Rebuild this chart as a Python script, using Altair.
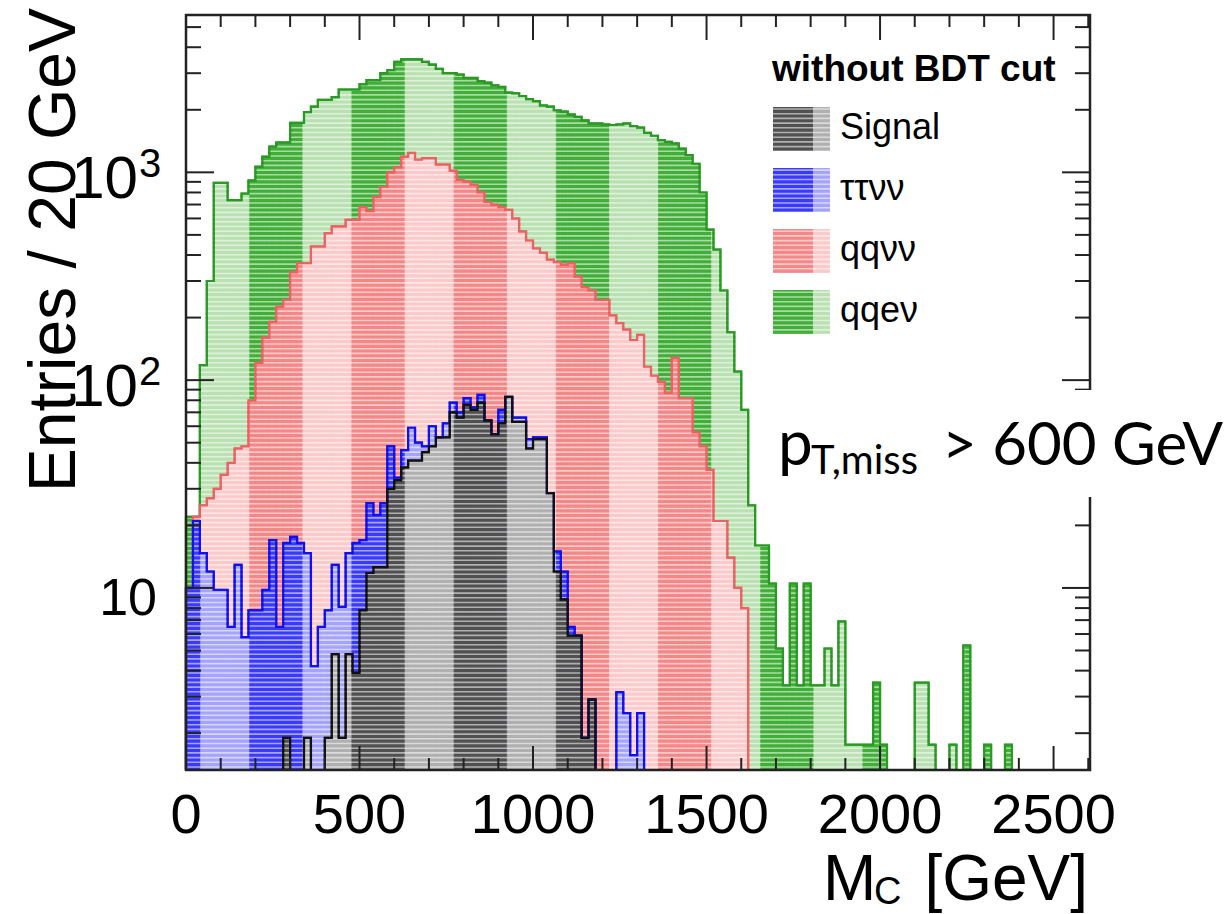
import altair as alt
import pandas as pd

# Entries per 20 GeV bin of M_C, as drawn in the stack: every series already
# contains the ones drawn in front of it (qqeν total > qqνν > ττνν > Signal).
BIN_WIDTH = 20

stack_signal = [0, 0, 0, 0, 0, 0, 0, 0, 0, 0, 0, 0, 0, 0,
                1.9, 0, 0, 1.9, 0, 0, 1.9, 4.8, 1.9, 4.8, 3.9, 7.8, 11.8, 12.6, 12.6, 30,
                33, 38, 41, 41, 45, 48, 53, 53, 70, 66, 76, 72, 78, 64, 55, 62, 83, 63,
                63, 47, 52, 52, 28.6, 12, 8.8, 5.9, 5.9, 1.9, 2.9]

stack_tautau = [10, 21, 14.7, 12, 9.8, 9.8, 6.5, 12.9, 5.8, 7.8,
                7.8, 9.8, 17, 6.5, 16.5, 17.6, 16.5, 14.7, 4.2, 6.5,
                7.8, 12.9, 8.1, 14.7, 16.5, 17, 25.6, 22.5, 25.6, 48,
                34, 46, 59, 50, 48, 60, 53, 62, 78, 70,
                82, 74, 85, 64, 55, 72, 83, 66, 66, 52,
                53, 53, 28.6, 15, 12, 6.5, 5.9, 1.9, 2.9, 0,
                0, 0, 3.15, 2.5, 1.57, 2.5]

stack_qqvv = [10, 22, 25, 27, 30, 35, 40, 47, 48, 80,
              121, 160, 191, 226, 243, 330, 366, 366, 440, 440,
              510, 550, 550, 590, 590, 680, 650, 760, 850, 1000,
              1060, 1190, 1240, 1150, 1170, 1170, 1090, 1090, 1020, 920,
              900, 870, 800, 720, 700, 680, 660, 600, 520, 470,
              430, 410, 380, 370, 360, 365, 315, 280, 270, 243,
              243, 205, 188, 175, 156, 165, 116, 105, 98, 87,
              128, 82, 82, 56, 48, 37, 21, 21, 14, 10,
              8]

stack_qqev = [22, 22, 118, 300, 890, 890, 735, 735, 790, 915,
              1065, 1190, 1330, 1395, 1395, 1730, 1730, 1950, 2070, 2230,
              2230, 2300, 2500, 2500, 2500, 2650, 2780, 2780, 3000, 3100,
              3400, 3500, 3500, 3500, 3400, 3300, 3150, 3000, 3000, 2950,
              2850, 2850, 2750, 2700, 2620, 2580, 2420, 2400, 2330, 2250,
              2200, 2100, 2070, 1990, 1960, 1900, 1850, 1780, 1720, 1720,
              1700, 1690, 1700, 1720, 1670, 1640, 1550, 1500, 1430, 1400,
              1380, 1300, 1210, 1100, 800, 530, 425, 270, 170, 110,
              72, 25, 16, 16, 10.5, 5.1, 3.4, 10.5, 3.4, 10.5,
              3.4, 3.4, 5.1, 3.4, 6.9, 1.76, 1.76, 1.76, 1.76, 3.5,
              1.76, 0, 0, 0, 0, 3.5, 3.5, 1.76, 0, 0,
              1.76, 0, 5.3, 0, 0, 1.76, 0, 0, 1.76]

series = [("qqeν", stack_qqev), ("qqνν", stack_qqvv), ("ττνν", stack_tautau), ("Signal", stack_signal)]
legend_entries = ["Signal", "ττνν", "qqνν", "qqeν"]

x_tick_labels = [0, 500, 1000, 1500, 2000, 2500]
x_minor_ticks = [100, 200, 300, 400, 600, 700, 800, 900, 1100, 1200, 1300, 1400, 1600, 1700,
                 1800, 1900, 2100, 2200, 2300, 2400, 2600]
y_major_ticks = [10, 100, 1000]
y_minor_ticks = [2, 3, 4, 5, 6, 7, 8, 9, 20, 30, 40, 50, 60, 70, 80, 90,
                 200, 300, 400, 500, 600, 700, 800, 900, 2000, 3000, 4000, 5000]

# ---- styling -------------------------------------------------------------
STYLE = {
    "qqeν":   dict(dark="#40ae37", light="#b9e1b1", line="#2a9a24"),
    "qqνν":   dict(dark="#f48787", light="#fccaca", line="#ec6262"),
    "ττνν":   dict(dark="#3a3aff", light="#a4a4ff", line="#1010f0"),
    "Signal": dict(dark="#505050", light="#b0b0b0", line="#111111"),
}
# the fill pattern alternates in vertical bands along M_C
BAND_START, BAND_PERIOD, BAND_WIDTH = 42.4, 294.5, 141.2
# horizontal hatch lines laid over the fills (pixel spacing)
HATCH_STEP = 4.7

W, H = 904, 755
LEFT, TOP = 186, 15
SANS = "Liberation Sans"
X_DOMAIN = [0, 2605]
Y_DOMAIN = [1.33, 5717]
FLOOR = 1.0  # below the visible range, clamped onto the bottom edge

xs = alt.Scale(domain=X_DOMAIN, nice=False, zero=False)
ys = alt.Scale(type="log", domain=Y_DOMAIN, nice=False, clamp=True)

fill_keys = [f"{n}|{b}" for n in STYLE for b in ("dark", "light")]
fill_cols = [STYLE[n][b] for n in STYLE for b in ("dark", "light")]
fs = alt.Scale(domain=fill_keys, range=fill_cols)

band_edges = sorted(e for k in range(-1, 10)
                    for e in (BAND_START + k * BAND_PERIOD, BAND_START + k * BAND_PERIOD + BAND_WIDTH))


def band_segments(lo, hi):
    cuts = [lo] + [e for e in band_edges if lo < e < hi] + [hi]
    for a, b in zip(cuts[:-1], cuts[1:]):
        light = ((0.5 * (a + b) - BAND_START) % BAND_PERIOD) < BAND_WIDTH
        yield a, b, "light" if light else "dark"


def fill_layer(name, vals):
    rows = []
    for i, v in enumerate(vals):
        if v <= 0:
            continue
        for a, b, band in band_segments(i * BIN_WIDTH, (i + 1) * BIN_WIDTH):
            rows.append(dict(x0=a, x1=b, top=v, base=FLOOR, key=f"{name}|{band}"))
    df = pd.DataFrame(rows)
    return alt.Chart(df).mark_rect(strokeWidth=0.8).encode(
        x=alt.X("x0:Q", scale=xs, axis=None), x2="x1:Q",
        y=alt.Y("top:Q", scale=ys, axis=None), y2="base:Q",
        fill=alt.Fill("key:N", scale=fs, legend=None),
        stroke=alt.Stroke("key:N", scale=fs, legend=None),
    )


def outline_layer(name, vals):
    pts = [(0, FLOOR)]
    for i, v in enumerate(vals):
        pts.append((i * BIN_WIDTH, max(v, FLOOR)))
    end = len(vals) * BIN_WIDTH
    pts += [(end, max(vals[-1], FLOOR)), (end, FLOOR)]
    df = pd.DataFrame({"x": [p[0] for p in pts], "y": [p[1] for p in pts], "k": range(len(pts))})
    return alt.Chart(df).mark_line(interpolate="step-after", strokeWidth=2.2,
                                   color=STYLE[name]["line"]).encode(
        x=alt.X("x:Q", scale=xs, axis=None), y=alt.Y("y:Q", scale=ys, axis=None), order="k:Q")


one = pd.DataFrame({"_": [0]})


def text_at(txt, X, Y, size, align="left", weight="normal", font=SANS, angle=0):
    return alt.Chart(one).mark_text(text=txt, align=align, baseline="alphabetic", fontSize=size,
                                    fontWeight=weight, font=font, angle=angle, color="black").encode(
        x=alt.value(X - LEFT), y=alt.value(Y - TOP))


def box_at(X0, Y0, X1, Y1, fill):
    return alt.Chart(one).mark_rect(fill=fill).encode(
        x=alt.value(X0 - LEFT), x2=alt.value(X1 - LEFT), y=alt.value(Y0 - TOP), y2=alt.value(Y1 - TOP))


TICK = dict(color="#222222", strokeWidth=2)


def x_ticks(vals, y0, y1):
    return alt.Chart(pd.DataFrame({"v": vals})).mark_rule(**TICK).encode(
        x=alt.X("v:Q", scale=xs, axis=None), y=alt.value(y0), y2=alt.value(y1))


def y_ticks(vals, x0, x1):
    return alt.Chart(pd.DataFrame({"v": vals})).mark_rule(**TICK).encode(
        y=alt.Y("v:Q", scale=ys, axis=None), x=alt.value(x0), x2=alt.value(x1))


layers = []
for name, vals in series:
    layers += [fill_layer(name, vals), outline_layer(name, vals)]

# legend swatches (two-tone like the fills)
for k, name in enumerate(legend_entries):
    yc = 129 + 61 * k
    layers.append(box_at(773, yc - 22, 813, yc + 22, STYLE[name]["dark"]))
    layers.append(box_at(813, yc - 22, 830, yc + 22, STYLE[name]["light"]))

# hatch texture: thin white lines, visible only over the coloured fills
hatch = pd.DataFrame({"py": [round(i * HATCH_STEP, 2) for i in range(int(H / HATCH_STEP) + 1)]})
layers.append(alt.Chart(hatch).mark_rule(color="white", strokeWidth=1.6, opacity=0.55).encode(
    y=alt.Y("py:Q", scale=None, axis=None), x=alt.value(0), x2=alt.value(W)))

# outlines again on top of the texture
for name, vals in series:
    layers.append(outline_layer(name, vals))

# inward ticks on all four sides
layers += [
    x_ticks(x_tick_labels, H, H - 24), x_ticks(x_minor_ticks, H, H - 12),
    x_ticks(x_tick_labels, 0, 25), x_ticks(x_minor_ticks, 0, 12),
    y_ticks(y_major_ticks, 0, 28), y_ticks(y_minor_ticks, 0, 15),
    y_ticks(y_major_ticks, W, W - 28), y_ticks(y_minor_ticks, W, W - 15),
]

frame = alt.Chart(one).mark_rect(filled=False, stroke="#222222", strokeWidth=2.5).encode(
    x=alt.value(0), x2=alt.value(W), y=alt.value(0), y2=alt.value(H))
layers.append(frame)

# x tick labels
xlab = pd.DataFrame({"v": x_tick_labels, "t": [str(v) for v in x_tick_labels]})
layers.append(alt.Chart(xlab).mark_text(fontSize=56, font=SANS, align="center", baseline="alphabetic",
                                        color="black").encode(
    x=alt.X("v:Q", scale=xs, axis=None), y=alt.value(833 - TOP), text="t:N"))

# y tick labels: 10, 10^2, 10^3
ylab_plain = pd.DataFrame({"v": [10], "t": ["10"]})
ylab_pow = pd.DataFrame({"v": [100, 1000], "t": ["10", "10"], "e": ["2", "3"]})
layers.append(alt.Chart(ylab_plain).mark_text(fontSize=52, font=SANS, align="right", baseline="alphabetic",
                                              dy=27, color="black").encode(
    y=alt.Y("v:Q", scale=ys, axis=None), x=alt.value(157 - LEFT), text="t:N"))
layers.append(alt.Chart(ylab_pow).mark_text(fontSize=60, font=SANS, align="right", baseline="alphabetic",
                                            dy=26, color="black").encode(
    y=alt.Y("v:Q", scale=ys, axis=None), x=alt.value(138 - LEFT), text="t:N"))
layers.append(alt.Chart(ylab_pow).mark_text(fontSize=40, font=SANS, align="left", baseline="alphabetic",
                                            dy=5, color="black").encode(
    y=alt.Y("v:Q", scale=ys, axis=None), x=alt.value(139 - LEFT), text="e:N"))

# axis titles
layers.append(text_at("Entries / 20 GeV", 75, 8, 66, align="right", angle=270))
layers.append(text_at("M", 823, 900, 64))
layers.append(text_at("C", 874, 904, 38))
layers.append(text_at("[GeV]", 1088, 900, 64, align="right"))

# legend texts
layers.append(text_at("without BDT cut", 772, 81, 37, weight="bold"))
for k, name in enumerate(legend_entries):
    layers.append(text_at(name, 840, 139 + 61 * k, 36))

# selection note
NOTE_FONT = "Lato"
layers.append(box_at(770, 390, 1232, 497, "white"))
layers.append(text_at("p", 778, 465, 62, font=NOTE_FONT))
layers.append(text_at("T,miss", 811, 474, 40, font=NOTE_FONT))
layers.append(text_at("> 600 GeV", 942, 465, 60, font=NOTE_FONT))

chart = alt.layer(*layers).properties(
    width=W, height=H,
    padding={"left": LEFT, "top": TOP, "right": 1232 - LEFT - W, "bottom": 914 - TOP - H},
    autosize=alt.AutoSizeParams(type="none"),
    background="white",
).configure_view(stroke=None)

chart.save("out.html", embed_options={"renderer": "svg", "actions": False})
